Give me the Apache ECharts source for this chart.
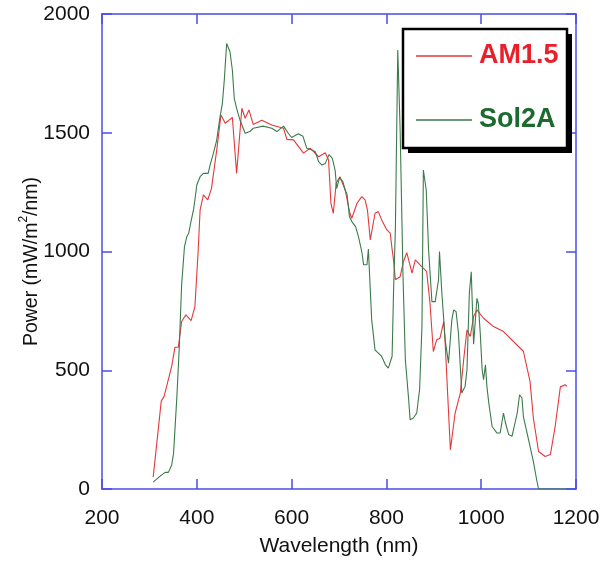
<!DOCTYPE html>
<html>
<head>
<meta charset="utf-8">
<script src="https://cdn.jsdelivr.net/npm/echarts@6/dist/echarts.min.js"></script>
<style>
html,body{margin:0;padding:0;background:#fff;}
#chart{width:602px;height:563px;}
</style>
</head>
<body>
<div id="chart"></div>
<script>
// Wavelength (nm) and power (mW/m^2/nm)
var am15Wavelength = [308,325,331,347,354,361,368,377,388,396,403,407,414,423,431,442,451,460,475,484,495,502,510,519,537,558,583,590,604,625,639,657,671,678,683,688,694,702,713,723,727,738,748,755,760,766,776,783,790,801,808,812,815,819,829,836,843,854,861,871,885,892,899,906,913,921,924,935,945,956,963,970,977,984,991,1005,1026,1047,1068,1089,1103,1110,1121,1135,1146,1156,1167,1177,1181];
var am15Power = [50,370,390,516,597,597,705,733,709,768,1007,1175,1238,1217,1266,1427,1575,1540,1565,1329,1603,1561,1596,1535,1553,1533,1519,1472,1470,1414,1435,1399,1416,1385,1203,1161,1287,1315,1259,1161,1140,1203,1231,1217,1175,1049,1161,1168,1133,1091,1077,1010,965,881,894,958,995,909,965,944,915,782,579,628,635,705,614,165,320,404,544,670,642,726,754,719,684,663,621,580,453,300,158,137,145,263,430,439,432];

var sol2aWavelength = [308,320,333,340,347,351,358,363,368,374,379,383,387,393,396,400,407,414,424,428,435,442,449,454,458,463,470,475,479,484,491,502,512,519,540,558,569,583,593,600,614,624,632,642,650,657,664,671,679,686,692,695,701,708,713,717,722,727,735,741,748,752,759,762,769,776,783,790,798,804,812,815,819,824,829,835,840,847,850,857,864,870,875,878,884,889,896,903,910,912,917,924,931,938,942,947,952,959,966,970,975,979,984,991,994,998,1002,1005,1009,1012,1016,1023,1033,1040,1047,1051,1058,1065,1076,1081,1086,1089,1100,1110,1117,1121,1150,1181];
var sol2aPower = [29,50,70,70,100,151,390,595,860,1021,1063,1077,1119,1175,1217,1280,1315,1329,1329,1364,1413,1469,1567,1624,1722,1876,1841,1764,1645,1603,1554,1498,1505,1519,1528,1519,1505,1528,1498,1480,1496,1485,1435,1428,1420,1378,1364,1371,1408,1392,1340,1265,1310,1295,1259,1240,1147,1126,1105,1063,1000,944,944,1010,712,586,572,558,523,509,558,825,1100,1848,1512,900,544,376,292,299,320,418,684,1343,1259,1007,789,789,881,1000,825,628,530,712,754,747,656,404,432,502,825,915,610,803,780,656,502,460,523,432,362,263,236,236,320,280,229,222,320,397,383,305,207,116,39,0,0,0];

var xTicks = {min: 200, max: 1200, interval: 200};
var yTicks = {min: 0, max: 2000, interval: 500};
var seriesNames = ['AM1.5', 'Sol2A'];
var xName = 'Wavelength (nm)';

function pairs(xs, ys) { return xs.map(function (x, i) { return [x, ys[i]]; }); }

var axisBlue = '#4b4bec';
var redLine = '#e4393c';
var greenLine = '#3c7a4c';
var font = "'Liberation Sans', Arial, sans-serif";
var plain = function (v) { return String(v); };

function xAx(pos, showLabel) {
  return {
    type: 'value', position: pos, min: xTicks.min, max: xTicks.max, interval: xTicks.interval,
    axisLine: {show: true, onZero: false, lineStyle: {color: axisBlue, width: 1.5}},
    axisTick: {show: true, inside: true, length: 10, lineStyle: {color: axisBlue, width: 1.5}},
    axisLabel: {show: showLabel, color: '#111', fontSize: 21, fontFamily: font, margin: 19, formatter: plain},
    splitLine: {show: false},
    name: showLabel ? xName : '', nameLocation: 'middle', nameGap: 47, nameMoveOverlap: false,
    nameTextStyle: {color: '#111', fontSize: 21, fontFamily: font}
  };
}
function yAx(pos, showLabel) {
  return {
    type: 'value', position: pos, min: yTicks.min, max: yTicks.max, interval: yTicks.interval,
    axisLine: {show: true, onZero: false, lineStyle: {color: axisBlue, width: 1.5}},
    axisTick: {show: true, inside: true, length: 10, lineStyle: {color: axisBlue, width: 1.5}},
    axisLabel: {show: showLabel, color: '#111', fontSize: 21, fontFamily: font, margin: 12, formatter: plain},
    splitLine: {show: false},
    name: showLabel ? '{a|Power (mW/m}{s|2}{a|/nm)}' : '', nameLocation: 'middle', nameGap: 60, nameMoveOverlap: false,
    nameTextStyle: {
      color: '#111', fontFamily: font, padding: [0, 20, 0, 0],
      rich: {
        a: {fontSize: 19.5, fontFamily: font, color: '#111', lineHeight: 24, verticalAlign: 'bottom'},
        s: {fontSize: 12, fontFamily: font, color: '#111', lineHeight: 24, verticalAlign: 'top'}
      }
    }
  };
}

var chart = echarts.init(document.getElementById('chart'), null, {renderer: 'canvas'});
chart.setOption({
  backgroundColor: '#fff',
  animation: false,
  grid: {left: 102, right: 26, top: 14, bottom: 74, containLabel: false, outerBoundsMode: 'none'},
  xAxis: [xAx('bottom', true), xAx('top', false)],
  yAxis: [yAx('left', true), yAx('right', false)],
  graphic: [
    {type: 'rect', z: 10, silent: true, shape: {x: 408, y: 34, width: 164, height: 119}, style: {fill: '#000'}},
    {type: 'rect', z: 11, silent: true, shape: {x: 403, y: 29, width: 164, height: 119},
      style: {fill: '#fff', stroke: '#000', lineWidth: 2.5}}
  ],
  legend: {
    z: 20,
    orient: 'vertical', left: 416, top: 40,
    padding: 0,
    icon: 'rect',
    itemWidth: 56, itemHeight: 1.3, itemGap: 32,
    data: [
      {name: seriesNames[0], textStyle: {color: '#e8202a'}},
      {name: seriesNames[1], textStyle: {color: '#1c6a2e'}}
    ],
    textStyle: {fontSize: 27, fontWeight: 'bold', lineHeight: 32, padding: [0, 0, 0, 2], fontFamily: font}
  },
  series: [
    {name: seriesNames[0], type: 'line', data: pairs(am15Wavelength, am15Power),
      symbol: 'none', lineStyle: {color: redLine, width: 1.1}, itemStyle: {color: redLine}},
    {name: seriesNames[1], type: 'line', data: pairs(sol2aWavelength, sol2aPower),
      symbol: 'none', lineStyle: {color: greenLine, width: 1.1}, itemStyle: {color: greenLine}}
  ]
});
</script>
</body>
</html>
